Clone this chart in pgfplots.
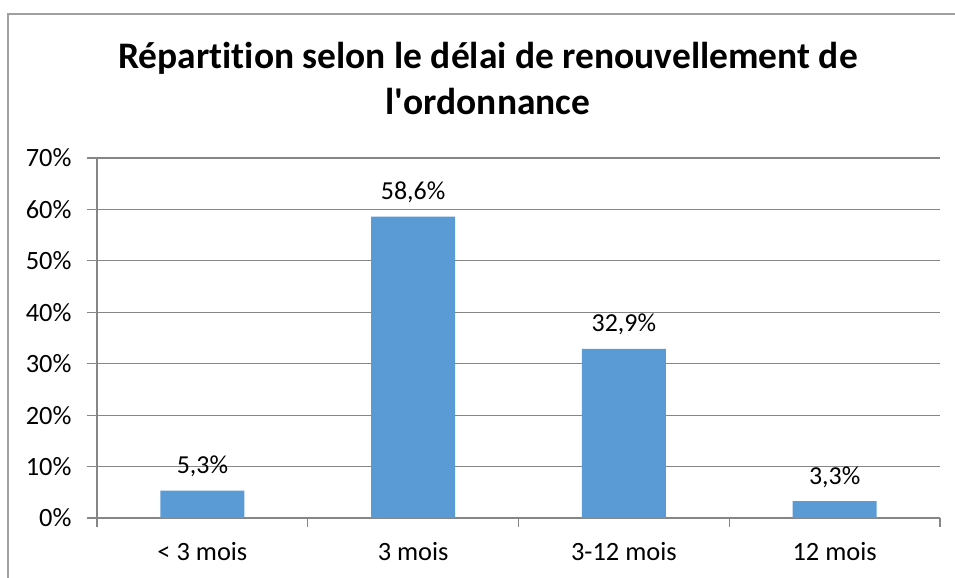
\documentclass[border=0pt]{standalone}
\usepackage{pgfplots}
\pgfplotsset{compat=1.18}
\usepackage{fontspec}
\setmainfont{Carlito}[Ligatures={NoCommon}]
\definecolor{barblue}{HTML}{5B9BD5}
\definecolor{axisgray}{HTML}{868686}
\definecolor{framegray}{HTML}{A0A0A0}
\begin{document}
\begin{tikzpicture}[x=1bp,y=1bp]
\useasboundingbox (0,0) rectangle (955,578);
\draw[framegray, line width=1.5bp] (8,-10) -- (8,564) -- (970,564);
\begin{axis}[
  at={(97bp,60bp)}, anchor=south west,
  scale only axis, width=843bp, height=360bp,
  xmin=-0.5, xmax=3.5, ymin=0, ymax=70,
  ybar, bar width=84bp,
  axis lines=left, axis line style={-, draw=axisgray, line width=1.2bp},
  tick align=outside,
  ymajorgrids, grid style={draw=axisgray, line width=1.2bp},
  ytick={0,10,...,70},
  yticklabel={\pgfmathprintnumber{\tick}\%},
  xtick={0,1,2,3},
  xticklabels={< 3 mois, 3 mois, 3-12 mois, 12 mois},
  minor xtick={-0.5,0.5,1.5,2.5,3.5},
  major tick length=10bp, minor tick length=9bp,
  major x tick style={draw=none},
  minor x tick style={draw=axisgray, line width=1.2bp},
  ytick style={draw=axisgray, line width=1.2bp},
  /pgf/number format/assume math mode=true,
  /pgf/number format/use comma,
  /pgf/number format/1000 sep={},
  ticklabel style={font=\fontsize{26.5}{31}\selectfont, text=black},
  y tick label style={xshift=-12bp},
  x tick label style={anchor=base, yshift=-33bp},
  nodes near coords={\pgfmathprintnumber[fixed,fixed zerofill,precision=1]{\pgfplotspointmeta}\%},
  nodes near coords style={font=\fontsize{26}{31}\selectfont, anchor=base, yshift=17bp, text=black},
]
\addplot[fill=barblue, draw=none] coordinates {(0,5.3) (1,58.6) (2,32.9) (3,3.3)};
\end{axis}
\node[anchor=base, font=\bfseries\fontsize{37.6}{44}\selectfont] at (488,509) {Répartition selon le délai de renouvellement de};
\node[anchor=base, font=\bfseries\fontsize{37.6}{44}\selectfont] at (488,463) {l\textquotesingle ordonnance};
\end{tikzpicture}
\end{document}
